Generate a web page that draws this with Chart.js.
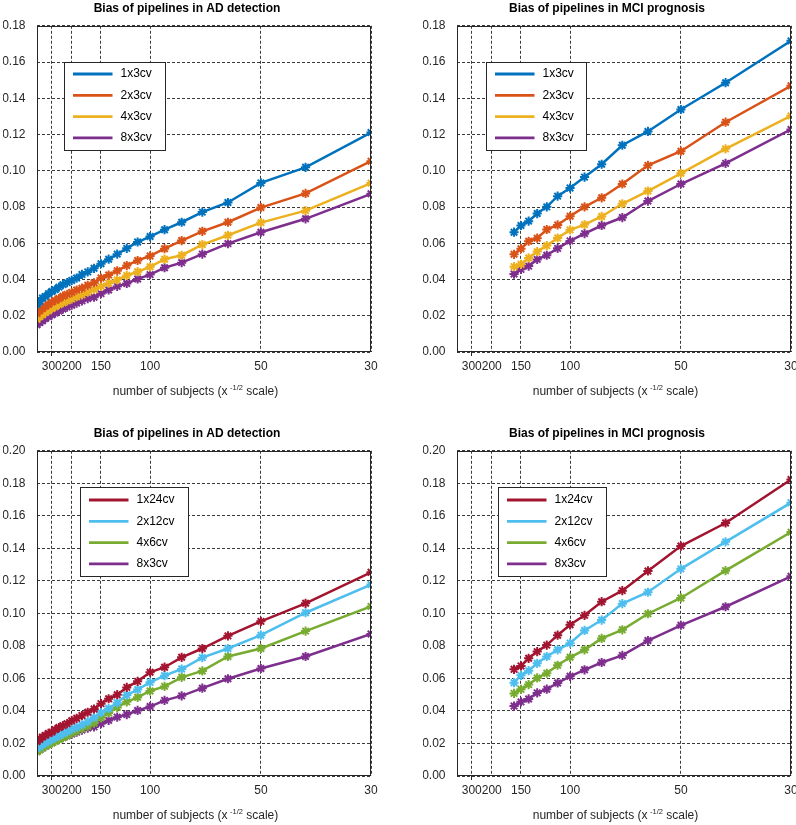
<!DOCTYPE html>
<html><head><meta charset="utf-8">
<script src="https://cdn.jsdelivr.net/npm/chart.js@4"></script>
<style>
html,body{margin:0;padding:0;background:#fff;overflow:hidden;width:796px;height:825px;position:relative;}
canvas{position:absolute;}
</style></head><body>
<canvas id="c1" width="396" height="410" style="left:0px;top:0px"></canvas>
<canvas id="c2" width="396" height="410" style="left:420px;top:0px"></canvas>
<canvas id="c3" width="396" height="410" style="left:0px;top:425px"></canvas>
<canvas id="c4" width="396" height="410" style="left:420px;top:425px"></canvas>
<script>
// ---- data ----
const subjectsAD = [300,290,280,270,260,250,240,230,220,210,200,190,180,170,160,150,140,130,120,110,100,90,80,70,60,50,40,30];
const subjectsMCI = [160,150,140,130,120,110,100,90,80,70,60,50,40,30];
const xTickSubjects = [250,200,150,100,50,30];
const xTickLabels = ['300','200','150','100','50','30'];

const ad_1x3cv  = [0.0262,0.0280,0.0298,0.0306,0.0322,0.0334,0.0344,0.0358,0.0372,0.0383,0.0395,0.0408,0.0428,0.0442,0.0462,0.0487,0.0512,0.0540,0.0572,0.0607,0.0637,0.0675,0.0716,0.0772,0.0825,0.0933,0.1019,0.1211];
const ad_2x3cv  = [0.0212,0.0228,0.0240,0.0252,0.0262,0.0275,0.0285,0.0295,0.0308,0.0318,0.0328,0.0342,0.0352,0.0368,0.0382,0.0408,0.0425,0.0448,0.0477,0.0505,0.0530,0.0570,0.0615,0.0666,0.0716,0.0797,0.0875,0.1053];
const ad_4x3cv  = [0.0180,0.0195,0.0205,0.0218,0.0228,0.0240,0.0250,0.0262,0.0272,0.0282,0.0293,0.0305,0.0315,0.0330,0.0345,0.0362,0.0380,0.0398,0.0422,0.0443,0.0470,0.0512,0.0534,0.0593,0.0644,0.0714,0.0780,0.0932];
const ad_8x3cv  = [0.0150,0.0162,0.0172,0.0185,0.0195,0.0205,0.0215,0.0226,0.0237,0.0248,0.0258,0.0270,0.0282,0.0295,0.0302,0.0322,0.0342,0.0362,0.0378,0.0403,0.0427,0.0465,0.0493,0.0540,0.0598,0.0661,0.0735,0.0873];
const ad_1x24cv = [0.0212,0.0225,0.0240,0.0250,0.0262,0.0270,0.0285,0.0298,0.0310,0.0322,0.0340,0.0355,0.0372,0.0392,0.0412,0.0445,0.0475,0.0500,0.0545,0.0582,0.0638,0.0669,0.0730,0.0784,0.0862,0.0951,0.1062,0.1253];
const ad_2x12cv = [0.0170,0.0180,0.0192,0.0203,0.0213,0.0225,0.0236,0.0248,0.0260,0.0272,0.0287,0.0300,0.0315,0.0335,0.0360,0.0390,0.0415,0.0450,0.0498,0.0532,0.0576,0.0617,0.0658,0.0728,0.0784,0.0866,0.1004,0.1177];
const ad_4x6cv  = [0.0150,0.0160,0.0172,0.0182,0.0192,0.0203,0.0213,0.0224,0.0236,0.0248,0.0262,0.0276,0.0290,0.0305,0.0325,0.0358,0.0388,0.0422,0.0456,0.0484,0.0523,0.0551,0.0607,0.0646,0.0735,0.0784,0.0891,0.1043];

const mci_1x3cv  = [0.0661,0.0698,0.0722,0.0764,0.0801,0.0860,0.0905,0.0965,0.1036,0.1141,0.1217,0.1338,0.1486,0.1717];
const mci_2x3cv  = [0.0539,0.0570,0.0611,0.0628,0.0676,0.0701,0.0749,0.0801,0.0851,0.0927,0.1030,0.1108,0.1268,0.1469];
const mci_4x3cv  = [0.0471,0.0484,0.0519,0.0554,0.0587,0.0629,0.0674,0.0703,0.0748,0.0818,0.0888,0.0986,0.1121,0.1303];
const mci_8x3cv  = [0.0430,0.0456,0.0474,0.0511,0.0534,0.0572,0.0613,0.0653,0.0698,0.0742,0.0833,0.0927,0.1041,0.1228];
const mci_1x24cv = [0.0656,0.0677,0.0724,0.0765,0.0805,0.0866,0.0930,0.0988,0.1072,0.1140,0.1261,0.1414,0.1556,0.1823];
const mci_2x12cv = [0.0574,0.0619,0.0648,0.0693,0.0735,0.0776,0.0817,0.0895,0.0959,0.1060,0.1130,0.1274,0.1440,0.1681];
const mci_4x6cv  = [0.0508,0.0533,0.0562,0.0603,0.0632,0.0681,0.0730,0.0776,0.0846,0.0899,0.0998,0.1095,0.1263,0.1500];

// ---- styling ----
const FONT = '"Liberation Sans", Arial, Helvetica, sans-serif';
const AXIS = '#262626';
const GRID = '#3a3a3a';
const C = {blue:'#0072BD', orange:'#D95319', yellow:'#EDB120', purple:'#7E2F8E', green:'#77AC30', cyan:'#4DBEEE', red:'#A2142F'};

function toPoints(ns, ys){ return ns.map((n,i)=>({x: Math.pow(n,-0.5), y: ys[i]})); }
function ds(label, ns, ys, color){
  return {label, data: toPoints(ns, ys), borderColor: color, backgroundColor: color,
    borderWidth: 2.5, pointStyle: 'star', pointRadius: 4.6, pointBorderWidth: 2,
    pointBorderColor: color, pointBackgroundColor: color, tension: 0, clip: 0};
}

const framePlugin = {
  id: 'frame',
  afterDatasetsDraw(chart){
    const {ctx, chartArea:a} = chart;
    ctx.save(); ctx.strokeStyle = AXIS; ctx.lineWidth = 1; ctx.setLineDash([]);
    ctx.strokeRect(Math.round(a.left)+0.5, Math.round(a.top)+0.5, Math.round(a.right-a.left)-1, Math.round(a.bottom-a.top)-1);
    ctx.restore();
  }
};
const boxLegend = {
  id: 'boxLegend',
  afterDraw(chart, args, o){
    const {ctx, chartArea:a} = chart;
    const x0 = Math.round(a.left + o.dx), y0 = Math.round(a.top + o.dy);
    ctx.save();
    ctx.fillStyle = '#fff'; ctx.fillRect(x0, y0, o.width, o.height);
    ctx.strokeStyle = AXIS; ctx.lineWidth = 1; ctx.strokeRect(x0+0.5, y0+0.5, o.width, o.height);
    chart.data.datasets.forEach((d,i)=>{
      const y = y0 + o.firstRow + i*o.rowGap;
      ctx.strokeStyle = d.borderColor; ctx.lineWidth = 2.8; ctx.lineCap = 'butt';
      ctx.beginPath(); ctx.moveTo(x0+9, y); ctx.lineTo(x0+48.5, y); ctx.stroke();
      ctx.fillStyle = '#000'; ctx.font = '12px ' + FONT; ctx.textBaseline = 'middle'; ctx.textAlign = 'left';
      ctx.fillText(d.label, x0+56.5, y);
    });
    ctx.restore();
  }
};
const axisTitle = {
  id: 'axisTitle',
  afterDraw(chart){
    const {ctx, chartArea:a} = chart;
    const p1 = 'number of subjects (x', sup = '-1/2', p2 = ' scale)';
    const f1 = '12px ' + FONT, f2 = '7.5px ' + FONT;
    ctx.save(); ctx.fillStyle = AXIS; ctx.textBaseline = 'middle'; ctx.textAlign = 'left';
    ctx.font = f1; const w1 = ctx.measureText(p1).width, w3 = ctx.measureText(p2).width;
    ctx.font = f2; const w2 = ctx.measureText(sup).width;
    const gap = 2.5, total = w1 + gap + w2 + w3;
    let x = a.left + 158.5 - total/2; const y = a.bottom + 40;
    ctx.font = f1; ctx.fillText(p1, x, y); x += w1 + gap;
    ctx.font = f2; ctx.fillText(sup, x, y - 4); x += w2;
    ctx.font = f1; ctx.fillText(p2, x, y);
    ctx.restore();
  }
};

function makeChart(id, title, datasets, ymax, legendPos, xAxisHeight){
  return new Chart(document.getElementById(id), {
    type: 'line',
    data: {datasets},
    plugins: [framePlugin, boxLegend, axisTitle],
    options: {
      responsive: false, animation: false, devicePixelRatio: 1,
      layout: {padding: {left: 3, right: 25, top: 0, bottom: 0}},
      plugins: {
        legend: {display: false}, tooltip: {enabled: false},
        title: {display: true, text: title, color: '#000', font: {family: FONT, size: 12, weight: 'bold'}, padding: {top: 1, bottom: 10.4}},
        boxLegend: legendPos
      },
      scales: {
        x: {
          type: 'linear', min: Math.pow(300,-0.5), max: Math.pow(30,-0.5),
          afterBuildTicks: s => { s.ticks = xTickSubjects.map(n => ({value: Math.pow(n,-0.5)})); },
          afterFit: s => { s.height = xAxisHeight; },
          ticks: {callback: (v,i) => xTickLabels[i], autoSkip: false, maxRotation: 0, padding: 3, color: AXIS, font: {family: FONT, size: 12}},
          grid: {color: GRID, lineWidth: 1, drawTicks: true, tickLength: 4, tickWidth: 1,
                 tickColor: c => (c.index === 0 ? AXIS : 'rgba(0,0,0,0)')},
          border: {display: false, dash: [3,2]}
        },
        y: {
          min: 0, max: ymax,
          afterFit: s => { s.width = 34; },
          ticks: {stepSize: 0.02, callback: v => Number(v).toFixed(2), padding: 11.5, color: AXIS, font: {family: FONT, size: 12}},
          grid: {color: GRID, lineWidth: 1, drawTicks: false},
          border: {display: false, dash: [3,2]}
        }
      }
    }
  });
}

const legTop = {dx: 27, dy: 36.5, width: 101, height: 88, firstRow: 12, rowGap: 21.3};
const legTopR = {dx: 29, dy: 36.5, width: 100, height: 88, firstRow: 12, rowGap: 21.3};
const legBot = {dx: 43, dy: 36.5, width: 108, height: 89, firstRow: 13, rowGap: 21.3};
const legBotR = {dx: 41, dy: 36.5, width: 108, height: 89, firstRow: 13, rowGap: 21.3};

makeChart('c1', 'Bias of pipelines in AD detection', [
  ds('1x3cv', subjectsAD, ad_1x3cv, C.blue),
  ds('2x3cv', subjectsAD, ad_2x3cv, C.orange),
  ds('4x3cv', subjectsAD, ad_4x3cv, C.yellow),
  ds('8x3cv', subjectsAD, ad_8x3cv, C.purple)
], 0.18, legTop, 58);
makeChart('c2', 'Bias of pipelines in MCI prognosis', [
  ds('1x3cv', subjectsMCI, mci_1x3cv, C.blue),
  ds('2x3cv', subjectsMCI, mci_2x3cv, C.orange),
  ds('4x3cv', subjectsMCI, mci_4x3cv, C.yellow),
  ds('8x3cv', subjectsMCI, mci_8x3cv, C.purple)
], 0.18, legTopR, 58);
makeChart('c3', 'Bias of pipelines in AD detection', [
  ds('1x24cv', subjectsAD, ad_1x24cv, C.red),
  ds('2x12cv', subjectsAD, ad_2x12cv, C.cyan),
  ds('4x6cv', subjectsAD, ad_4x6cv, C.green),
  ds('8x3cv', subjectsAD, ad_8x3cv, C.purple)
], 0.20, legBot, 59);
makeChart('c4', 'Bias of pipelines in MCI prognosis', [
  ds('1x24cv', subjectsMCI, mci_1x24cv, C.red),
  ds('2x12cv', subjectsMCI, mci_2x12cv, C.cyan),
  ds('4x6cv', subjectsMCI, mci_4x6cv, C.green),
  ds('8x3cv', subjectsMCI, mci_8x3cv, C.purple)
], 0.20, legBotR, 59);
</script>
</body></html>
